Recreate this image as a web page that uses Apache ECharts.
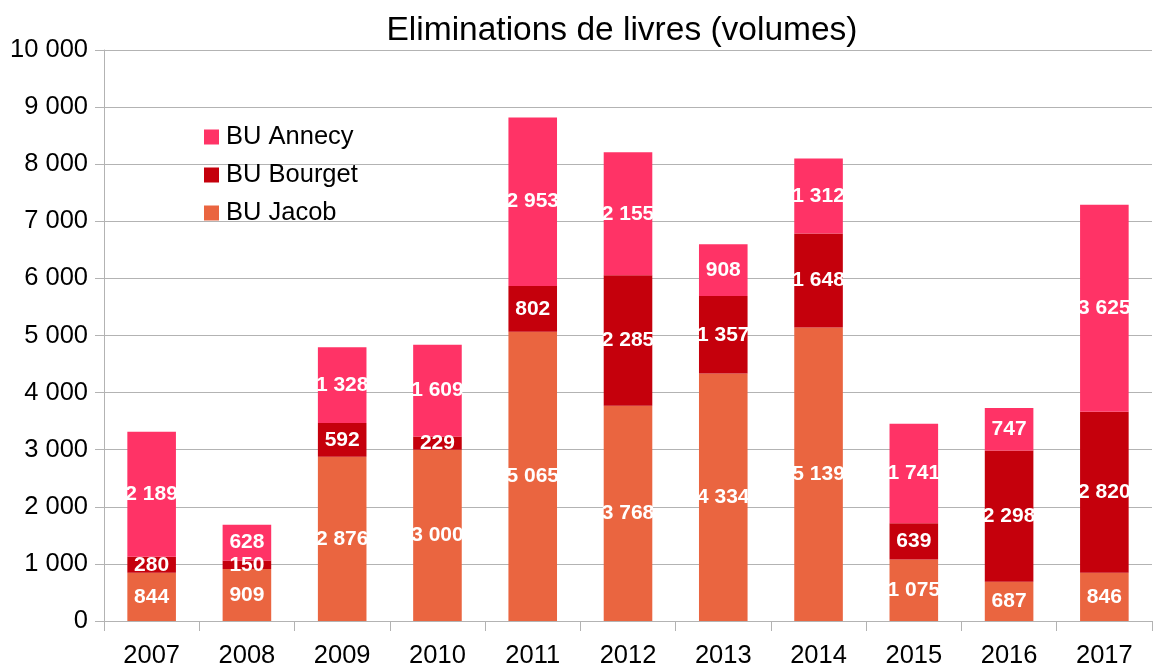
<!DOCTYPE html>
<html><head><meta charset="utf-8">
<script src="https://cdn.jsdelivr.net/npm/echarts@6/dist/echarts.min.js"></script>
<style>html,body{margin:0;padding:0;background:#fff}#c{width:1157px;height:665px}</style>
</head><body><div id="c"></div>
<script>
const years = ['2007','2008','2009','2010','2011','2012','2013','2014','2015','2016','2017'];
const jacob = [844, 909, 2876, 3000, 5065, 3768, 4334, 5139, 1075, 687, 846];
const bourget = [280, 150, 592, 229, 802, 2285, 1357, 1648, 639, 2298, 2820];
const annecy = [2189, 628, 1328, 1609, 2953, 2155, 908, 1312, 1741, 747, 3625];

const fmt = v => String(v).replace(/\B(?=(\d{3})+(?!\d))/g, ' ');
const FONT = '"Liberation Sans", Arial, sans-serif';
const lbl = {show:true, position:'inside', color:'#fff', fontWeight:'bold', fontSize:21, fontFamily:FONT,
  formatter: p => fmt(p.value)};
const chart = echarts.init(document.getElementById('c'), null, {renderer:'canvas'});
chart.setOption({
  animation:false,
  title:{text:'Eliminations de livres (volumes)', left:617, textAlign:'center', top:9,
    textStyle:{fontFamily:FONT, fontSize:33.5, fontWeight:'normal', color:'#000'}},
  legend:{orient:'vertical', left:199, top:119, itemWidth:15, itemHeight:15, itemGap:12,
    icon:'rect', data:['BU Annecy','BU Bourget','BU Jacob'],
    textStyle:{fontFamily:FONT, fontSize:25.5, color:'#000', lineHeight:26, padding:[0,0,0,2]}},
  grid:{left:104, right:5, top:50, bottom:44, containLabel:false, outerBoundsMode:'none'},
  xAxis:{type:'category', data:years,
    axisLine:{lineStyle:{color:'#b3b3b3', width:1}},
    axisTick:{show:true, alignWithLabel:false, length:10, lineStyle:{color:'#b3b3b3'}},
    axisLabel:{fontFamily:FONT, fontSize:25.5, color:'#000', margin:22}},
  yAxis:{type:'value', min:0, max:10000, interval:1000,
    axisLine:{show:true, lineStyle:{color:'#b3b3b3'}},
    axisTick:{show:true, length:9, lineStyle:{color:'#b3b3b3'}},
    splitLine:{lineStyle:{color:'#b3b3b3'}},
    axisLabel:{fontFamily:FONT, fontSize:25.5, color:'#000', margin:16, formatter: v => fmt(v)}},
  series:[
    {name:'BU Jacob', type:'bar', stack:'t', data:jacob, barWidth:'51%', itemStyle:{color:'#ea6540'}, label:lbl},
    {name:'BU Bourget', type:'bar', stack:'t', data:bourget, itemStyle:{color:'#c5000c'}, label:lbl},
    {name:'BU Annecy', type:'bar', stack:'t', data:annecy, itemStyle:{color:'#ff3366'}, label:lbl}
  ]
});
</script></body></html>
